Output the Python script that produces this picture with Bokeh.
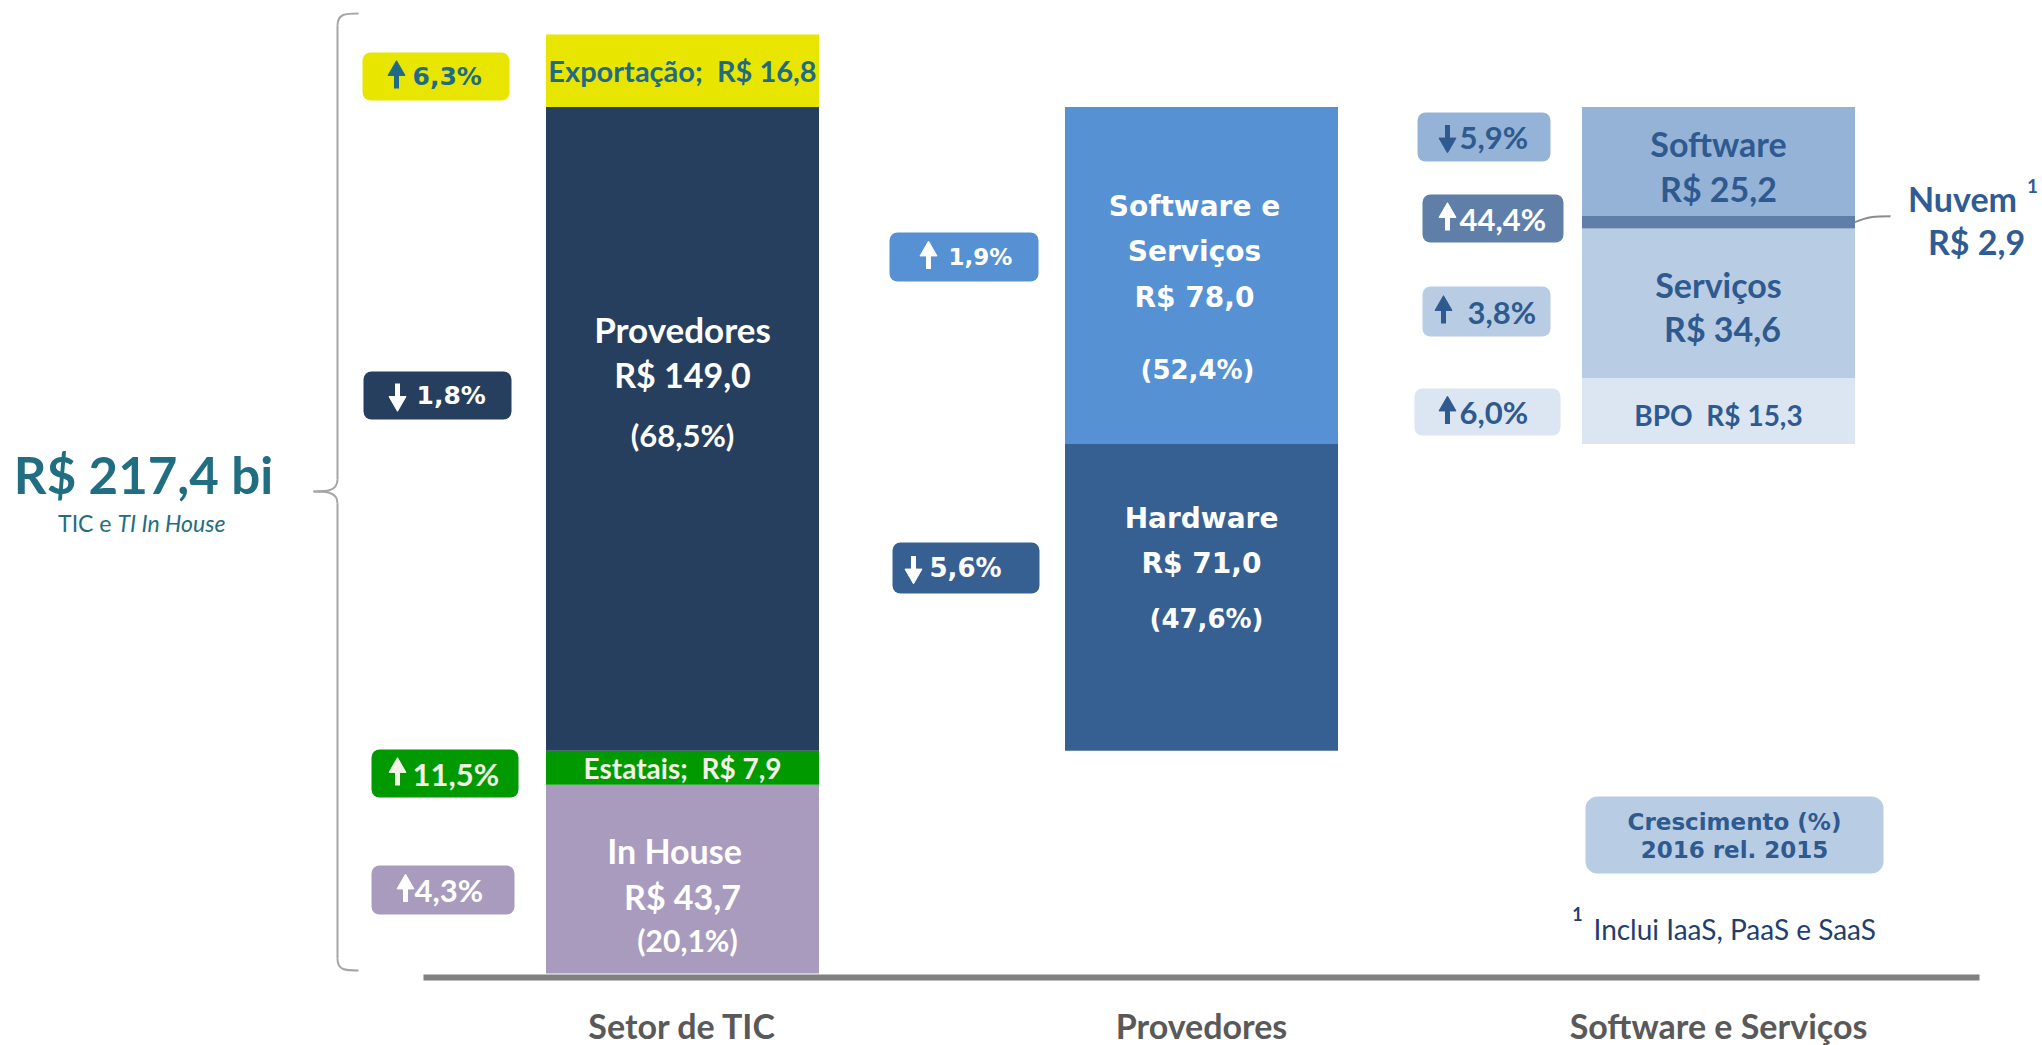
from bokeh.plotting import figure
from bokeh.models import Range1d, BoxAnnotation, ColumnDataSource
from bokeh.embed import file_html
from bokeh.resources import INLINE

# ---------------- data ----------------
categories = ["Setor de TIC", "Provedores", "Software e Serviços"]

setor_labels = ["In House", "Estatais", "Provedores", "Exportação"]
setor_values = [43.7, 7.9, 149.0, 16.8]
setor_shares = ["20,1%", "", "68,5%", ""]
setor_growth = [4.3, 11.5, -1.8, 6.3]

prov_labels = ["Hardware", "Software e Serviços"]
prov_values = [71.0, 78.0]
prov_shares = ["47,6%", "52,4%"]
prov_growth = [-5.6, 1.9]

sws_labels = ["BPO", "Serviços", "Nuvem", "Software"]
sws_values = [15.3, 34.6, 2.9, 25.2]
sws_growth = [6.0, 3.8, 44.4, -5.9]

total_value = 217.4
total_sub = ["TIC e", "TI In House"]
legend_lines = ["Crescimento (%)", "2016 rel. 2015"]
footnote = "Inclui IaaS, PaaS e SaaS"

# ---------------- helpers ----------------
BASE_PX = 973.0   # screen px of value 0
K = 4.319         # px per R$ bi
W, H = 2042, 1045
NB = "\u00a0"


def Y(px):
    return (BASE_PX - px) / K


def brl(v):
    return ("R$" + NB + "%.1f" % v).replace(".", ",")


def num(g):
    return ("%.1f%%" % abs(g)).replace(".", ",")


def cum(base, vals):
    b, t = [], []
    c = base
    for v in vals:
        b.append(c)
        c += v
        t.append(c)
    return b, t


p = figure(width=W, height=H, x_range=Range1d(0, W),
           y_range=Range1d(Y(H), Y(0)), output_backend="svg",
           toolbar_location=None, min_border=0,
           x_axis_location=None, y_axis_location=None)
p.grid.visible = False
p.outline_line_color = None
p.background_fill_color = "white"
p.border_fill_color = "white"

bar_x = [682, 1201, 1718]
bar_w = 273

# ---------------- bars ----------------
c1 = ["#A99BBE", "#009A00", "#263F5E", "#E8E600"]
b1, t1 = cum(0.0, setor_values)
p.vbar(x=[bar_x[0]] * 4, width=bar_w, bottom=b1, top=t1, fill_color=c1, line_color=None)

base2 = setor_values[0] + setor_values[1]
c2 = ["#376092", "#5591D3"]
b2, t2 = cum(base2, prov_values)
p.vbar(x=[bar_x[1]] * 2, width=bar_w, bottom=b2, top=t2, fill_color=c2, line_color=None)

base3 = base2 + prov_values[0]
c3 = ["#DCE6F2", "#B8CCE4", "#5F7EA8", "#95B3D7"]
b3, t3 = cum(base3, sws_values)
p.vbar(x=[bar_x[2]] * 4, width=bar_w, bottom=b3, top=t3, fill_color=c3, line_color=None)

# baseline
p.segment(x0=[423], x1=[1979], y0=[Y(977)], y1=[Y(977)], line_width=6, line_color="#808080")

# ---------------- text collector ----------------
rows = dict(x=[], y=[], text=[], size=[], color=[], font=[], style=[], align=[])


def txt(x, y, s, size, color, font="Lato", style="bold", align="center"):
    rows["x"].append(x)
    rows["y"].append(y)
    rows["text"].append(s)
    rows["size"].append("%dpx" % size)
    rows["color"].append(color)
    rows["font"].append(font)
    rows["style"].append(style)
    rows["align"].append(align)


def mid(b, t):
    return (b + t) / 2.0


# bar 1 labels
cx = bar_x[0]
m = mid(b1[3], t1[3])
txt(cx, m, setor_labels[3] + ";" + NB + NB + brl(setor_values[3]), 29, "#1F6B85")
m = mid(b1[2], t1[2])
txt(cx, m + 100 / K, setor_labels[2], 35, "white")
txt(cx, m + 54 / K, brl(setor_values[2]), 34, "white")
txt(cx, m - 6 / K, "(" + setor_shares[2] + ")", 31, "white")
m = mid(b1[1], t1[1])
txt(cx, m, setor_labels[1] + ";" + NB + NB + brl(setor_values[1]), 28, "#F2F2E6")
m = mid(b1[0], t1[0])
txt(cx - 8, m + 29 / K, setor_labels[0], 34, "white")
txt(cx, m - 17 / K, brl(setor_values[0]), 34, "white")
txt(cx + 5, m - 61 / K, "(" + setor_shares[0] + ")", 30, "white")

# bar 2 labels
cx = bar_x[1]
m = mid(b2[1], t2[1])
words = prov_labels[1].split(" ")
txt(cx - 7, m + 69 / K, words[0] + " " + words[1], 28, "white", "DejaVu Sans")
txt(cx - 7, m + 24 / K, words[2], 28, "white", "DejaVu Sans")
txt(cx - 7, m - 22 / K, brl(prov_values[1]), 28, "white", "DejaVu Sans")
txt(cx - 4, m - 94 / K, "(" + prov_shares[1] + ")", 26, "white", "DejaVu Sans")
m = mid(b2[0], t2[0])
txt(cx, m + 79 / K, prov_labels[0], 28, "white", "DejaVu Sans")
txt(cx, m + 34 / K, brl(prov_values[0]), 28, "white", "DejaVu Sans")
txt(cx + 5, m - 22 / K, "(" + prov_shares[0] + ")", 26, "white", "DejaVu Sans")

# bar 3 labels
cx = bar_x[2]
blue = "#2F5A8F"
m = mid(b3[3], t3[3])
txt(cx, m + 18 / K, sws_labels[3], 34, blue)
txt(cx, m - 27 / K, brl(sws_values[3]), 34, blue)
m = mid(b3[1], t3[1])
txt(cx, m + 19 / K, sws_labels[1], 34, blue)
txt(cx + 4, m - 25 / K, brl(sws_values[1]), 34, blue)
m = mid(b3[0], t3[0])
txt(cx, m - 4 / K, sws_labels[0] + NB + NB + brl(sws_values[0]), 28, blue)

# Nuvem callout
m = mid(b3[2], t3[2])
txt(1962, m + 24 / K, sws_labels[2], 34, "#2F5C94")
txt(2032, m + 36 / K, "1", 19, "#2F5C94")
txt(1976, m - 19 / K, brl(sws_values[2]), 34, "#2F5C94")
p.bezier(x0=[bar_x[2] + bar_w / 2], y0=[m], x1=[1890], y1=[m + 6 / K],
         cx0=[1868], cy0=[m + 6 / K], cx1=[1875], cy1=[m + 6 / K],
         line_color="#8C8C8C", line_width=2)

# total
txt(143, Y(474), "R$" + NB + ("%.1f" % total_value).replace(".", ",") + NB + "bi", 51, "#216E82")
txt(111, Y(522), total_sub[0], 23, "#216E82", "Lato", "normal", "right")
txt(117, Y(522), total_sub[1], 23, "#216E82", "Lato", "italic", "left")

# brace (spans total bar)
bx = 337
top_b = Y(13)
bot_b = Y(970)
mid_b = Y(491)
r = 12 / K
bc = "#A6A6A6"
p.line(x=[bx, bx], y=[top_b - r, mid_b + r], line_color=bc, line_width=2)
p.line(x=[bx, bx], y=[mid_b - r, bot_b + r], line_color=bc, line_width=2)
p.bezier(x0=[bx, bx, bx, bx], y0=[top_b - r, mid_b + r, mid_b - r, bot_b + r],
         x1=[358, 313, 313, 358], y1=[top_b, mid_b, mid_b, bot_b],
         cx0=[bx, bx, bx, bx], cy0=[top_b, mid_b, mid_b, bot_b],
         cx1=[345, 325, 325, 345], cy1=[top_b, mid_b, mid_b, bot_b],
         line_color=bc, line_width=2)

# ---------------- badges ----------------
# (left, right, top_px, bottom_px, fill, growth, text_color, font, size, arrow_x, num_x)
badges = [
    (362, 509, 52, 100, "#E8E600", setor_growth[3], "#1F6B85", "DejaVu Sans", 25, 396, 412),
    (363, 511, 371, 419, "#263F5E", setor_growth[2], "white", "DejaVu Sans", 25, 397, 416),
    (371, 518, 749, 797, "#009A00", setor_growth[1], "#F2F2E6", "Lato", 31, 397, 412),
    (371, 514, 865, 914, "#A99BBE", setor_growth[0], "white", "Lato", 31, 405, 414),
    (889, 1038, 232, 281, "#5591D3", prov_growth[1], "white", "DejaVu Sans", 23, 928, 948),
    (892, 1039, 542, 593, "#376092", prov_growth[0], "white", "DejaVu Sans", 26, 913, 929),
    (1417, 1550, 112, 161, "#95B3D7", sws_growth[3], blue, "Lato", 31, 1447, 1459),
    (1422, 1563, 194, 242, "#5F7EA8", sws_growth[2], "white", "Lato", 31, 1447, 1459),
    (1422, 1550, 286, 336, "#B8CCE4", sws_growth[1], blue, "Lato", 31, 1443, 1467),
    (1414, 1560, 388, 435, "#DCE6F2", sws_growth[0], blue, "Lato", 31, 1447, 1459),
]
ax, ay0, ay1, hy, hm, acol = [], [], [], [], [], []
for (l, rr, tp, bp, fc, g, tc, f, sz, axp, nxp) in badges:
    p.add_layout(BoxAnnotation(left=l, right=rr, top=Y(tp), bottom=Y(bp),
                               fill_color=fc, fill_alpha=1.0, line_color=None,
                               border_radius=8, level="underlay"))
    cy = (tp + bp) / 2
    txt(nxp, Y(cy), num(g), sz, tc, f, "bold", "left")
    ax.append(axp)
    acol.append(tc)
    if g > 0:
        ay0.append(Y(cy + 12)); ay1.append(Y(cy - 4)); hy.append(Y(cy - 6)); hm.append("triangle")
    else:
        ay0.append(Y(cy - 12)); ay1.append(Y(cy + 4)); hy.append(Y(cy + 6)); hm.append("inverted_triangle")

p.segment(x0=ax, x1=ax, y0=ay0, y1=ay1, line_color=acol, line_width=5)
p.scatter(x=ax, y=hy, marker=hm, size=17, fill_color=acol, line_color=acol, line_width=1)

# legend box
p.add_layout(BoxAnnotation(left=1585, right=1883, top=Y(796), bottom=Y(873),
                           fill_color="#B8CCE4", fill_alpha=1.0, line_color=None,
                           border_radius=12, level="underlay"))
txt(1734, Y(821), legend_lines[0], 23, blue, "DejaVu Sans")
txt(1734, Y(849), legend_lines[1], 23, blue, "DejaVu Sans")

# footnote
txt(1577, Y(913), "1", 18, "#1F3F6E", "Lato", "bold")
txt(1593, Y(928), footnote, 28, "#1F3F6E", "Lato", "normal", "left")

# category labels
for x, c in zip(bar_x, categories):
    txt(x, Y(1025), c, 34, "#595959")

src = ColumnDataSource(rows)
p.text(x="x", y="y", text="text", source=src, text_font_size="size",
       text_color="color", text_font="font", text_font_style="style",
       text_align="align", text_baseline="middle")

open("out.html", "w").write(file_html(p, INLINE))
